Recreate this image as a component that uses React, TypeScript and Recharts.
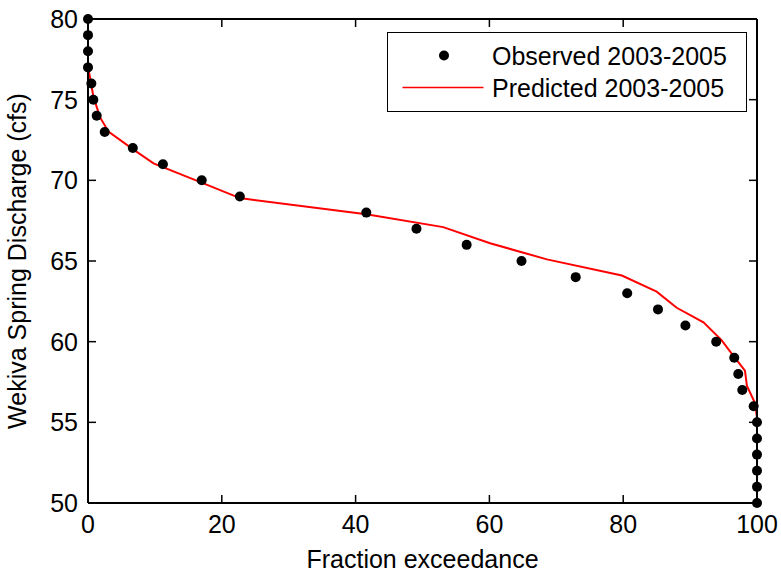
import React from 'react';
import { ComposedChart, Line, Scatter, XAxis, YAxis, Legend } from 'recharts';

const FONT = '"Liberation Sans", Arial, Helvetica, sans-serif';

// Observed 2003-2005 (fraction exceedance %, discharge cfs)
const observedX = [0, 0, 0, 0, 0.5, 0.8, 1.3, 2.5, 6.7, 11.2, 17.0, 22.7, 41.6, 49.1, 56.6, 64.8, 72.9, 80.6, 85.2, 89.3, 93.9, 96.6, 97.2, 97.8, 99.5, 100, 100, 100, 100, 100, 100];
const observedY = [80, 79, 78, 77, 76, 75, 74, 73, 72, 71, 70, 69, 68, 67, 66, 65, 64, 63, 62, 61, 60, 59, 58, 57, 56, 55, 54, 53, 52, 51, 50];

// Predicted 2003-2005
const predictedX = [0, 0, 0.3, 0.8, 1.8, 3.1, 6.8, 9.8, 16.7, 22.7, 41.6, 53.1, 60.1, 68.6, 79.8, 85.0, 88.0, 92.0, 94.7, 96.5, 98.2, 98.5, 99.7, 100, 100];
const predictedY = [80, 77, 76.4, 75.2, 73.9, 73.0, 71.9, 71.05, 69.9, 68.9, 67.9, 67.1, 66.1, 65.1, 64.1, 63.1, 62.1, 61.2, 60.1, 59.1, 58.2, 57.25, 56.2, 55.3, 50];

const xTicks = [0, 20, 40, 60, 80, 100];
const yTicks = [50, 55, 60, 65, 70, 75, 80];

const observed = observedX.map((x, i) => ({ x, y: observedY[i] }));
const predicted = predictedX.map((x, i) => ({ x, y: predictedY[i] }));

const axisLine = { stroke: '#000', strokeWidth: 2 };
const TICK_LEN = 8;
const LABEL_GAP_X = 12;
const LABEL_GAP_Y = 10;

const BottomTick = (props: any) => {
  const { x, y, payload } = props;
  const axisY = y - LABEL_GAP_X;
  return (
    <g>
      <line x1={x} x2={x} y1={axisY} y2={axisY - TICK_LEN} stroke="#000" strokeWidth={1.5} />
      <text x={x} y={y} dy="0.71em" textAnchor="middle" fontSize={25} fontFamily={FONT} fill="#000">
        {payload.value}
      </text>
    </g>
  );
};

const LeftTick = (props: any) => {
  const { x, y, payload } = props;
  const axisX = x + LABEL_GAP_Y;
  return (
    <g>
      <line x1={axisX} x2={axisX + TICK_LEN} y1={y} y2={y} stroke="#000" strokeWidth={1.5} />
      <text x={x} y={y} dy="0.355em" textAnchor="end" fontSize={25} fontFamily={FONT} fill="#000">
        {payload.value}
      </text>
    </g>
  );
};

const TopTick = (props: any) => {
  const { x, y } = props;
  return <line x1={x} x2={x} y1={y} y2={y + TICK_LEN} stroke="#000" strokeWidth={1.5} />;
};

const RightTick = (props: any) => {
  const { x, y } = props;
  return <line x1={x} x2={x - TICK_LEN} y1={y} y2={y} stroke="#000" strokeWidth={1.5} />;
};

const Dot = (props: any) => {
  const { cx, cy } = props;
  if (cx == null || cy == null) return null;
  return <circle cx={cx} cy={cy} r={5} fill="#000" />;
};

const YLabel = (props: any) => {
  const vb = props.viewBox || { x: 0, y: 0, width: 0, height: 0 };
  const cx = vb.x + 17;
  const cy = vb.y + vb.height / 2;
  return (
    <text
      x={cx}
      y={cy}
      transform={`rotate(-90, ${cx}, ${cy})`}
      textAnchor="middle"
      dominantBaseline="central"
      fontSize={25}
      fontFamily={FONT}
      fill="#000"
    >
      Wekiva Spring Discharge (cfs)
    </text>
  );
};

const LegendBox = () => (
  <div
    style={{
      width: 358,
      height: 78,
      border: '1.5px solid #000',
      background: '#fff',
      fontFamily: FONT,
      fontSize: 25,
      color: '#000',
      position: 'relative',
    }}
  >
    <svg width={110} height={78} style={{ position: 'absolute', left: 0, top: 0 }}>
      <circle cx={56} cy={22.5} r={5} fill="#000" />
      <line x1={14.5} x2={95.5} y1={54.5} y2={54.5} stroke="#ff0000" strokeWidth={1.5} />
    </svg>
    <div style={{ position: 'absolute', left: 104, top: 22.5 - 15, lineHeight: '30px', whiteSpace: 'nowrap' }}>
      Observed 2003-2005
    </div>
    <div style={{ position: 'absolute', left: 104, top: 54.5 - 15, lineHeight: '30px', whiteSpace: 'nowrap' }}>
      Predicted 2003-2005
    </div>
  </div>
);

export default function App() {
  return (
    <div style={{ position: 'absolute', left: 0, top: 0, width: 781, height: 577, background: '#fff' }}>
      <ComposedChart width={781} height={577} margin={{ top: 18, right: 23, left: 0, bottom: 0 }}>
        <XAxis
          xAxisId="bottom"
          type="number"
          dataKey="x"
          domain={[0, 100]}
          ticks={xTicks}
          height={74}
          axisLine={axisLine}
          tickLine={false}
          tickSize={0}
          tickMargin={LABEL_GAP_X}
          tick={BottomTick}
          interval={0}
          label={{ value: 'Fraction exceedance', position: 'insideBottom', offset: 9, fontSize: 25, fill: '#000', fontFamily: FONT }}
        />
        <XAxis
          xAxisId="top"
          orientation="top"
          type="number"
          dataKey="x"
          domain={[0, 100]}
          ticks={xTicks}
          height={1}
          axisLine={axisLine}
          tickLine={false}
          tickSize={0}
          tickMargin={0}
          tick={TopTick}
          interval={0}
        />
        <YAxis
          yAxisId="left"
          type="number"
          dataKey="y"
          domain={[50, 80]}
          ticks={yTicks}
          width={88}
          axisLine={axisLine}
          tickLine={false}
          tickSize={0}
          tickMargin={LABEL_GAP_Y}
          tick={LeftTick}
          interval={0}
          label={<YLabel />}
        />
        <YAxis
          yAxisId="right"
          orientation="right"
          type="number"
          dataKey="y"
          domain={[50, 80]}
          ticks={yTicks}
          width={1}
          axisLine={axisLine}
          tickLine={false}
          tickSize={0}
          tickMargin={0}
          tick={RightTick}
          interval={0}
        />
        <Line
          xAxisId="bottom"
          yAxisId="left"
          data={predicted}
          dataKey="y"
          type="linear"
          stroke="#ff0000"
          strokeWidth={2}
          dot={false}
          activeDot={false}
          isAnimationActive={false}
          name="Predicted 2003-2005"
        />
        <Scatter
          xAxisId="top"
          yAxisId="right"
          data={observed}
          dataKey="y"
          fill="#000"
          shape={<Dot />}
          isAnimationActive={false}
          name="Observed 2003-2005"
        />
        <Legend
          layout="horizontal"
          verticalAlign="middle"
          align="center"
          content={<LegendBox />}
          wrapperStyle={{ left: 387, top: 32, width: 361, height: 81 }}
        />
      </ComposedChart>
    </div>
  );
}
